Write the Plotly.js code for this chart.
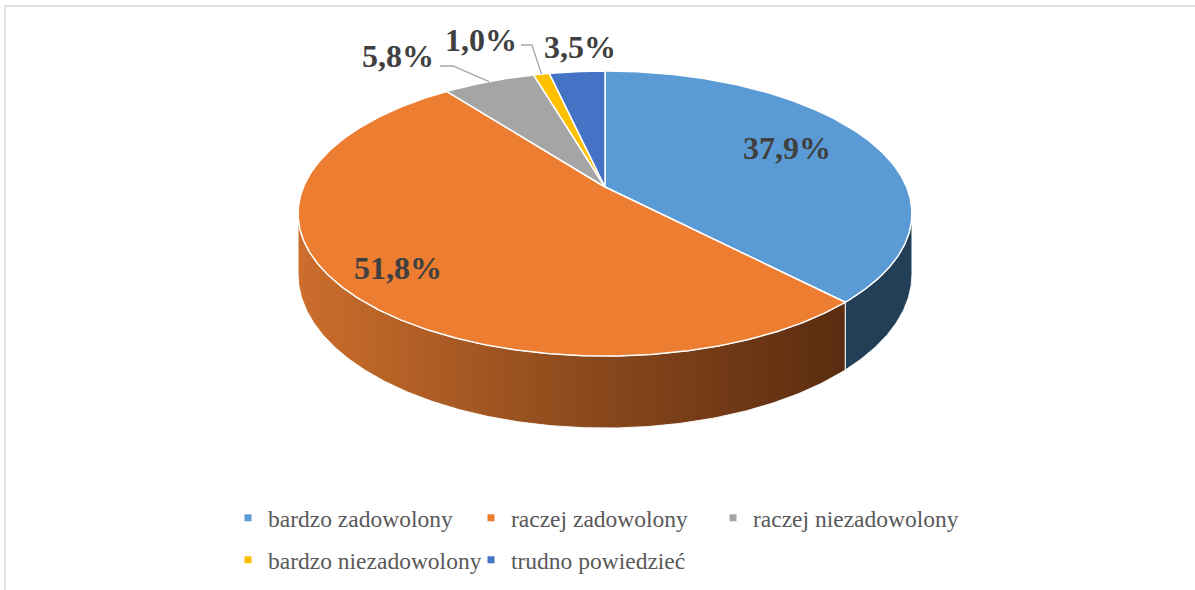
<!DOCTYPE html>
<html>
<head>
<meta charset="utf-8">
<script src="https://cdn.plot.ly/plotly-3.0.1.min.js"></script>
<style>html,body{margin:0;padding:0;background:#fff;}#chart{width:1195px;height:590px;}</style>
</head>
<body>
<div id="chart"></div>
<script>
// ---- data ----
const categories = ['bardzo zadowolony', 'raczej zadowolony', 'raczej niezadowolony', 'bardzo niezadowolony', 'trudno powiedzieć'];
const values = [37.9, 51.8, 5.8, 1.0, 3.5];
const labels = values.map(v => v.toFixed(1).replace('.', ',') + '%');

// ---- styles ----
const topColors = ['#5B9BD5', '#ED7D31', '#A5A5A5', '#FFC000', '#4472C4'];
const sideColors = ['#233F58', null, '#636363', '#997300', '#29446F'];
const sideGradients = [null, [[0, '#CC6E2C'], [0.5, '#8E4B1D'], [1, '#5A2C10']], null, null, null];
// label positions (pixel space) and leader elbows
const labelPos = [[787, 148], [398, 268], [398, 56], [481, 40], [580, 47]];
const leaderElbow = [null, null, [[440, 66], [453, 66]], [[521, 45], [532, 45]], null];
// legend slot for each category
const legendSlot = ['legend', 'legend', 'legend3', 'legend2', 'legend2'];

// ---- projection (perspective tilted disc) ----
const W = 1195, H = 590;
const ML = 220, MR = 150;
const CX = 605, CY = 187, RX = 301.6, RY = 137.6, K = -0.186, DEPTH = 58.6;
function proj(phiDeg, depth, r) {
  if (r === undefined) r = 1;
  const p = phiDeg * Math.PI / 180;
  const u = r * Math.sin(p), v = -r * Math.cos(p);
  const w = 1 + K * v;
  return [CX + RX * u / w, CY + RY * v / w + depth * DEPTH / w];
}
const visA = Math.acos(K) * 180 / Math.PI;   // right silhouette
const visB = 360 - visA;                       // left silhouette

const total = values.reduce((a, b) => a + b, 0);
const starts = [], ends = [];
let acc = 0;
values.forEach(v => { starts.push(acc / total * 360); acc += v; ends.push(acc / total * 360); });

function arc(a, b, depth) {
  const pts = [];
  const n = Math.max(2, Math.ceil(Math.abs(b - a) / 0.5));
  for (let i = 0; i <= n; i++) pts.push(proj(a + (b - a) * i / n, depth));
  return pts;
}

const traces = [];
// side faces
values.forEach((v, i) => {
  const a = Math.max(starts[i], visA), b = Math.min(ends[i], visB);
  if (b <= a) return;
  const pts = arc(a, b, 0).concat(arc(b, a, 1));
  pts.push(pts[0]);
  const t = {
    x: pts.map(p => p[0]), y: pts.map(p => p[1]),
    type: 'scatter', mode: 'lines', fill: 'toself',
    line: {color: 'rgba(255,255,255,0.9)', width: 1},
    hoverinfo: 'skip', showlegend: false
  };
  if (sideGradients[i]) t.fillgradient = {type: 'horizontal', colorscale: sideGradients[i]};
  else t.fillcolor = sideColors[i];
  traces.push(t);
});
// top faces
values.forEach((v, i) => {
  const pts = [[CX, CY]].concat(arc(starts[i], ends[i], 0));
  pts.push([CX, CY]);
  traces.push({
    x: pts.map(p => p[0]), y: pts.map(p => p[1]),
    type: 'scatter', mode: 'lines', fill: 'toself', fillcolor: topColors[i],
    line: {color: '#FFFFFF', width: 1.5},
    hoverinfo: 'skip', showlegend: false
  });
});
// leader lines
values.forEach((v, i) => {
  if (!leaderElbow[i]) return;
  const rim = proj((starts[i] + ends[i]) / 2, 0);
  const pts = leaderElbow[i].concat([rim]);
  traces.push({
    x: pts.map(p => p[0]), y: pts.map(p => p[1]),
    type: 'scatter', mode: 'lines', line: {color: '#A6A6A6', width: 1.3},
    hoverinfo: 'skip', showlegend: false
  });
});
// legend entries
categories.forEach((c, i) => {
  traces.push({
    x: [null], y: [null], type: 'scatter', mode: 'markers', name: c,
    marker: {symbol: 'square', size: 7, color: topColors[i]},
    legend: legendSlot[i], hoverinfo: 'skip'
  });
});

const SERIF = 'Liberation Serif';
const annotations = labels.map((t, i) => ({
  x: labelPos[i][0], y: labelPos[i][1], xref: 'x', yref: 'y', text: '<b>' + t + '</b>',
  showarrow: false, xanchor: 'center', yanchor: 'middle',
  font: {family: SERIF, size: 32, color: '#404040'}
}));

const gw = W - ML - MR;
const px = x => (x - ML) / gw;
const py = y => 1 - y / H;
const legendFont = {family: SERIF, size: 23.5, color: '#595959'};
const legendBase = {orientation: 'h', xanchor: 'left', yanchor: 'middle', font: legendFont, bgcolor: 'rgba(0,0,0,0)'};
const layout = {
  width: W, height: H,
  font: {family: SERIF},
  margin: {l: ML, r: MR, t: 0, b: 0},
  paper_bgcolor: '#FFFFFF', plot_bgcolor: 'rgba(0,0,0,0)',
  xaxis: {range: [ML, W - MR], visible: false, fixedrange: true},
  yaxis: {range: [H, 0], visible: false, fixedrange: true},
  showlegend: true,
  legend: Object.assign({}, legendBase, {x: px(228), y: py(518), entrywidth: 198, entrywidthmode: 'pixels'}),
  legend3: Object.assign({}, legendBase, {x: px(713), y: py(518)}),
  legend2: Object.assign({}, legendBase, {x: px(228), y: py(560), entrywidth: 198, entrywidthmode: 'pixels'}),
  annotations: annotations,
  shapes: [{type: 'rect', xref: 'paper', yref: 'paper', x0: px(5), x1: px(1205), y0: py(6), y1: py(600),
            line: {color: '#D9D9D9', width: 1.5}, fillcolor: 'rgba(0,0,0,0)', layer: 'below'}],
  hovermode: false
};
Plotly.newPlot('chart', traces, layout, {displayModeBar: false, staticPlot: true});
</script>
</body>
</html>
